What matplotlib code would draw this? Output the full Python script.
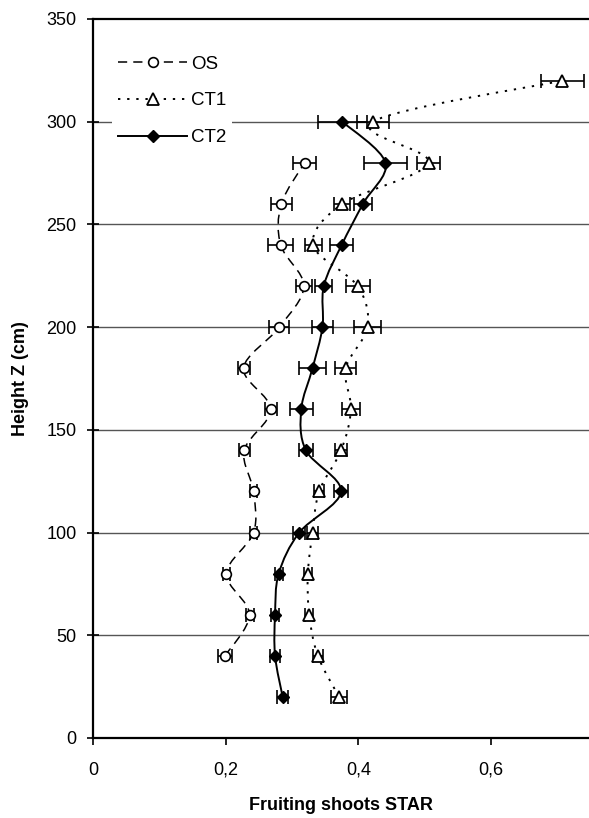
import numpy as np
import matplotlib
matplotlib.use("Agg")
import matplotlib.pyplot as plt
from matplotlib.path import Path
from matplotlib.patches import PathPatch
from matplotlib.lines import Line2D
from matplotlib.ticker import FuncFormatter

plt.rcParams['font.family'] = ['Liberation Sans', 'DejaVu Sans']

# Heights (cm)
os_z = [40, 60, 80, 100, 120, 140, 160, 180, 200, 220, 240, 260, 280]
os_x = [0.199, 0.236, 0.201, 0.242, 0.242, 0.228, 0.268, 0.227, 0.281, 0.318, 0.283, 0.284, 0.319]
os_err = [0.011, 0.006, 0.005, 0.006, 0.006, 0.008, 0.009, 0.009, 0.015, 0.012, 0.019, 0.016, 0.017]

ct1_z = [20, 40, 60, 80, 100, 120, 140, 160, 180, 200, 220, 240, 260, 280, 300, 320]
ct1_x = [0.371, 0.339, 0.326, 0.324, 0.331, 0.341, 0.374, 0.389, 0.381, 0.414, 0.399, 0.332, 0.376, 0.506, 0.422, 0.708]
ct1_err = [0.012, 0.008, 0.006, 0.006, 0.008, 0.008, 0.009, 0.013, 0.016, 0.020, 0.018, 0.013, 0.012, 0.018, 0.024, 0.033]

ct2_z = [20, 40, 60, 80, 100, 120, 140, 160, 180, 200, 220, 240, 260, 280, 300]
ct2_x = [0.286, 0.2745, 0.2745, 0.280, 0.311, 0.374, 0.321, 0.314, 0.331, 0.346, 0.348, 0.375, 0.407, 0.441, 0.376]
ct2_err = [0.008, 0.007, 0.006, 0.006, 0.009, 0.010, 0.011, 0.017, 0.020, 0.016, 0.013, 0.017, 0.013, 0.032, 0.037]

y_ticks = [0, 50, 100, 150, 200, 250, 300, 350]
x_ticks = [0, 0.2, 0.4, 0.6]


def smooth_path(xs, ys):
    P = np.column_stack([xs, ys]).astype(float)
    n = len(P)
    verts = [P[0]]
    codes = [Path.MOVETO]
    for i in range(n - 1):
        p0 = P[i - 1] if i > 0 else P[i]
        p1 = P[i]
        p2 = P[i + 1]
        p3 = P[i + 2] if i + 2 < n else P[i + 1]
        c1 = p1 + (p2 - p0) / 6.0
        c2 = p2 - (p3 - p1) / 6.0
        verts += [c1, c2, p2]
        codes += [Path.CURVE4] * 3
    return Path(verts, codes)


fig = plt.figure(figsize=(5.89, 8.18), dpi=100)
ax = fig.add_axes([0.158, 0.0978, 0.842, 0.879])
ax.set_xlim(0, 0.748)
ax.set_ylim(0, 350)

for yv in y_ticks[1:-1]:
    ax.axhline(yv, color='#555555', lw=1.0, zorder=1)
ax.axhline(350, color='black', lw=1.6, zorder=1, clip_on=False)

styles = [
    (os_x, os_z, os_err, dict(linestyle=(0, (6, 4)), lw=1.1), dict(marker='o', mfc='white', mec='black', ms=7, mew=1.2), 'OS'),
    (ct1_x, ct1_z, ct1_err, dict(linestyle=(0, (1.2, 3.5)), lw=1.4), dict(marker='^', mfc='white', mec='black', ms=8, mew=1.3), 'CT1'),
    (ct2_x, ct2_z, ct2_err, dict(linestyle='-', lw=1.4), dict(marker='D', mfc='black', mec='black', ms=6.5, mew=1.0), 'CT2'),
]

handles = []
for xs, zs, errs, lstyle, mstyle, label in styles:
    patch = PathPatch(smooth_path(xs, zs), facecolor='none', edgecolor='black',
                      transform=ax.transData, zorder=3, **lstyle)
    ax.add_patch(patch)
    ax.errorbar(xs, zs, xerr=errs, fmt='none', ecolor='black', elinewidth=1.2,
                capsize=5, capthick=1.2, zorder=4)
    ax.plot(xs, zs, linestyle='none', zorder=5, **mstyle)
    handles.append(Line2D([0], [0], color='black', **lstyle, **mstyle, label=label))

leg = ax.legend(handles=handles, loc='upper left', bbox_to_anchor=(0.02, 0.97),
                frameon=True, fancybox=False, edgecolor='none', facecolor='white',
                framealpha=1.0, fontsize=13.5, handlelength=3.7, labelspacing=1.05,
                handletextpad=0.2, borderpad=0.3)
leg.set_zorder(6)

ax.set_xticks(x_ticks)
ax.set_yticks(y_ticks)
ax.xaxis.set_major_formatter(FuncFormatter(lambda v, p: ('%g' % v).replace('.', ',')))
ax.tick_params(axis='x', direction='out', length=5, width=1.2, labelsize=13, pad=12)
ax.tick_params(axis='y', direction='inout', length=8, width=1.2, labelsize=13, pad=8)

for s in ['top', 'right']:
    ax.spines[s].set_visible(False)
for s in ['left', 'bottom']:
    ax.spines[s].set_linewidth(1.6)

ax.set_xlabel('Fruiting shoots STAR', fontsize=13, fontweight='bold', labelpad=13)
ax.set_ylabel('Height Z (cm)', fontsize=13, fontweight='bold', labelpad=12)

fig.savefig('out.png', dpi=100)
